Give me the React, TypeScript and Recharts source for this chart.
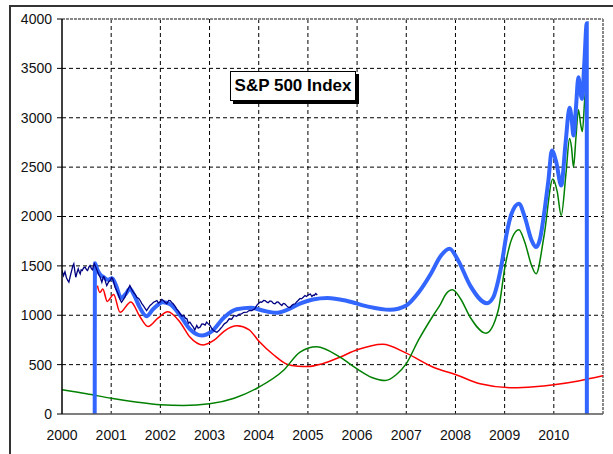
import React from "react";
import { LineChart, Line, XAxis, YAxis, CartesianGrid, ReferenceLine } from "recharts";

// x ticks / y ticks
const yearTicks = [2000, 2001, 2002, 2003, 2004, 2005, 2006, 2007, 2008, 2009, 2010];
const gridYears = [2001, 2002, 2003, 2004, 2005, 2006, 2007, 2008, 2009, 2010];
const valueTicks = [0, 500, 1000, 1500, 2000, 2500, 3000, 3500, 4000];
const gridValues = [500, 1000, 1500, 2000, 2500, 3000, 3500];

// actual S&P 500 (daily, navy)
const spxYears = [
  2000.0, 2000.03, 2000.06, 2000.09, 2000.12, 2000.14, 2000.17, 2000.2, 2000.22, 2000.24,
  2000.26, 2000.28, 2000.31, 2000.33, 2000.35, 2000.37, 2000.39, 2000.41, 2000.44, 2000.47,
  2000.5, 2000.52, 2000.55, 2000.57, 2000.6, 2000.62, 2000.64, 2000.66, 2000.7, 2000.74,
  2000.78, 2000.81, 2000.84, 2000.86, 2000.89, 2000.91, 2000.95, 2000.98, 2001.01, 2001.03,
  2001.06, 2001.08, 2001.11, 2001.14, 2001.18, 2001.21, 2001.25, 2001.28, 2001.33, 2001.38,
  2001.42, 2001.45, 2001.49, 2001.52, 2001.56, 2001.59, 2001.62, 2001.65, 2001.69, 2001.72,
  2001.75, 2001.79, 2001.82, 2001.86, 2001.9, 2001.93, 2001.96, 2001.99, 2002.03, 2002.06,
  2002.1, 2002.13, 2002.17, 2002.2, 2002.23, 2002.26, 2002.3, 2002.33, 2002.37, 2002.4,
  2002.44, 2002.47, 2002.51, 2002.54, 2002.57, 2002.6, 2002.64, 2002.67, 2002.7, 2002.74,
  2002.77, 2002.81, 2002.84, 2002.87, 2002.91, 2002.94, 2002.97, 2003.01, 2003.04, 2003.08,
  2003.12, 2003.15, 2003.19, 2003.22, 2003.25, 2003.3, 2003.35, 2003.4, 2003.45, 2003.5,
  2003.55, 2003.6, 2003.65, 2003.7, 2003.76, 2003.81, 2003.86, 2003.92, 2003.96, 2003.99,
  2004.03, 2004.06, 2004.1, 2004.13, 2004.16, 2004.19, 2004.23, 2004.26, 2004.3, 2004.33,
  2004.37, 2004.4, 2004.44, 2004.47, 2004.5, 2004.53, 2004.57, 2004.6, 2004.64, 2004.67,
  2004.7, 2004.74, 2004.77, 2004.8, 2004.84, 2004.87, 2004.91, 2004.94, 2004.97, 2005.01,
  2005.05, 2005.08, 2005.11, 2005.13, 2005.16, 2005.19,
];
const spxClose = [
  1453, 1400, 1440, 1380, 1350, 1335, 1400, 1460, 1500, 1521,
  1450, 1385, 1440, 1470, 1440, 1420, 1460, 1453, 1480, 1487,
  1460, 1453, 1490, 1504, 1470, 1460, 1500, 1521, 1470, 1420,
  1380, 1335, 1390, 1385, 1330, 1301, 1340, 1352, 1380, 1369,
  1320, 1284, 1250, 1217, 1160, 1132, 1160, 1183, 1250, 1301,
  1260, 1234, 1210, 1183, 1170, 1149, 1120, 1099, 1070, 1048,
  1070, 1099, 1110, 1132, 1140, 1149, 1125, 1132, 1160, 1149,
  1130, 1116, 1150, 1149, 1130, 1116, 1090, 1065, 1040, 1015,
  990, 998, 970, 964, 920, 930, 900, 879, 850, 896,
  870, 880, 910, 913, 900, 930, 915, 896, 870, 846,
  835, 829, 845, 863, 880, 913, 930, 964, 960, 998,
  990, 1010, 1015, 1030, 1031, 1050, 1048, 1065, 1100, 1116,
  1135, 1132, 1150, 1149, 1135, 1126, 1145, 1142, 1120, 1116,
  1135, 1132, 1110, 1099, 1120, 1116, 1095, 1082, 1080, 1099,
  1110, 1116, 1135, 1149, 1170, 1166, 1185, 1200, 1190, 1207,
  1215, 1190, 1205, 1200, 1220, 1205,
];

// model sum (thick blue)
const modelYears = [
  2000.665, 2000.67, 2000.72, 2000.78, 2000.85, 2000.93, 2001.02, 2001.1, 2001.2, 2001.3,
  2001.38, 2001.47, 2001.58, 2001.72, 2001.85, 2002.05, 2002.2, 2002.4, 2002.6, 2002.84,
  2003.05, 2003.3, 2003.55, 2003.85, 2004.1, 2004.35, 2004.6, 2004.85, 2005.1, 2005.4,
  2005.8, 2006.2, 2006.67, 2007.0, 2007.25, 2007.5, 2007.7, 2007.88, 2008.05, 2008.3,
  2008.64, 2008.77, 2008.87, 2008.94, 2009.04, 2009.14, 2009.29, 2009.41, 2009.55, 2009.64,
  2009.72, 2009.82, 2009.89, 2009.96, 2010.05, 2010.15, 2010.24, 2010.32, 2010.36, 2010.4,
  2010.45, 2010.5, 2010.54, 2010.57, 2010.62, 2010.67, 2010.672,
];
const modelValues = [
  0, 1527, 1460, 1410, 1385, 1360, 1375, 1300, 1175, 1220,
  1268, 1200, 1080, 990, 1060, 1132, 1110, 1000, 860, 795,
  840, 980, 1060, 1075, 1045, 1025, 1060, 1120, 1160, 1175,
  1145, 1090, 1055, 1099, 1230, 1420, 1600, 1673, 1560, 1300,
  1122, 1183, 1352, 1521, 1825, 2028, 2130, 1993, 1757, 1690,
  1774, 2094, 2365, 2669, 2550, 2314, 2750, 3101, 3000, 2820,
  3100, 3411, 3260, 3192, 3550, 3958, 0,
];

// first component (red)
const trendYears = [
  2000.72, 2000.77, 2000.83, 2000.92, 2001.05, 2001.18, 2001.4, 2001.58, 2001.75, 2001.95,
  2002.15, 2002.4, 2002.6, 2002.87, 2003.1, 2003.3, 2003.56, 2003.8, 2004.0, 2004.3,
  2004.57, 2004.8, 2005.0, 2005.3, 2005.65, 2006.0, 2006.52, 2007.0, 2007.55, 2008.0,
  2008.5, 2009.17, 2009.6, 2010.0, 2010.5, 2011.0,
];
const trendValues = [
  1300, 1230, 1265, 1140, 1210, 1030, 1135, 990, 886, 970,
  1035, 930, 780, 700, 750, 840, 893, 855, 740, 600,
  505, 484, 481, 510, 575, 650, 707, 616, 474, 400,
  306, 265, 275, 296, 335, 387,
];

// second component (green)
const cycleYears = [
  2000.0, 2000.5, 2001.0, 2001.5, 2002.0, 2002.47, 2003.0, 2003.5, 2004.0, 2004.5,
  2004.84, 2005.18, 2005.65, 2006.0, 2006.3, 2006.57, 2006.8, 2007.0, 2007.25, 2007.55,
  2007.7, 2007.8, 2007.94, 2008.1, 2008.3, 2008.62, 2008.87, 2009.01, 2009.15, 2009.29, 2009.41,
  2009.55, 2009.64, 2009.8, 2009.98, 2010.07, 2010.15, 2010.25, 2010.32, 2010.36, 2010.4,
  2010.45, 2010.5, 2010.55, 2010.58, 2010.63, 2010.66,
];
const cycleValues = [
  245, 205, 160, 122, 93, 86, 103, 160, 271, 440,
  626, 680, 575, 457, 370, 339, 400, 510, 750, 1000,
  1116, 1210, 1258, 1170, 980, 818, 1050, 1500, 1780, 1865, 1740,
  1500, 1420, 1800, 2380, 2250, 2010, 2450, 2790, 2700, 2500,
  2800, 3080, 2920, 2860, 3200, 3350,
];

const toPoints = (xs: number[], ys: number[]) => xs.map((x, i) => ({ x, y: ys[i] }));

const spxData = toPoints(spxYears, spxClose);
const modelData = toPoints(modelYears, modelValues);
const trendData = toPoints(trendYears, trendValues);
const cycleData = toPoints(cycleYears, cycleValues);

const tickStyle = { fontSize: 14, fill: "#111", fontFamily: "Liberation Sans, Arial, sans-serif" };

export default function App() {
  return (
    <div style={{ position: "absolute", left: 0, top: 0, width: 613, height: 454, background: "#fff", overflow: "hidden" }}>
      {/* outer frame (top/left edges visible) */}
      <div style={{ position: "absolute", left: 9, top: 5, width: 620, height: 470, borderTop: "2px solid #333", borderLeft: "2px solid #333" }} />
      <LineChart width={613} height={454} margin={{ top: 19, right: 10, bottom: 10, left: 10 }}>
        <CartesianGrid
          stroke="#000"
          strokeDasharray="4 3"
          horizontalValues={gridValues}
          verticalValues={gridYears}
        />
        <XAxis
          type="number"
          dataKey="x"
          domain={[2000, 2011]}
          ticks={yearTicks}
          height={30}
          tick={tickStyle}
          tickLine={false}
          tickSize={6}
          tickMargin={10}
          axisLine={{ stroke: "#555", strokeWidth: 1.5 }}
          allowDataOverflow
        />
        <YAxis
          type="number"
          dataKey="y"
          domain={[0, 4000]}
          ticks={valueTicks}
          width={52}
          tick={tickStyle}
          tickSize={5}
          tickMargin={5}
          tickLine={{ stroke: "#000" }}
          axisLine={{ stroke: "#000", strokeWidth: 1.5 }}
          allowDataOverflow
        />
        <ReferenceLine y={4000} stroke="#888" strokeWidth={2} strokeDasharray="3 1" />
        <ReferenceLine x={2011} stroke="#888" strokeWidth={2} strokeDasharray="3 1" />
        <Line data={trendData} dataKey="y" type="monotone" stroke="#ff0000" strokeWidth={1.5} dot={false} isAnimationActive={false} />
        <Line data={cycleData} dataKey="y" type="monotone" stroke="#008000" strokeWidth={1.5} dot={false} isAnimationActive={false} />
        <Line data={modelData} dataKey="y" type="monotone" stroke="#3366ff" strokeWidth={4} dot={false} isAnimationActive={false} />
        <Line data={spxData} dataKey="y" type="linear" stroke="#000080" strokeWidth={1.3} dot={false} isAnimationActive={false} />
      </LineChart>
      <div
        style={{
          position: "absolute",
          left: 230,
          top: 71,
          width: 124,
          height: 28,
          border: "1px solid #000",
          boxShadow: "3px 3px 0 #000",
          background: "#fff",
          fontFamily: "Liberation Sans, Arial, sans-serif",
          fontWeight: "bold",
          fontSize: 17,
          lineHeight: "28px",
          textAlign: "center",
        }}
      >
        S&amp;P 500 Index
      </div>
    </div>
  );
}
